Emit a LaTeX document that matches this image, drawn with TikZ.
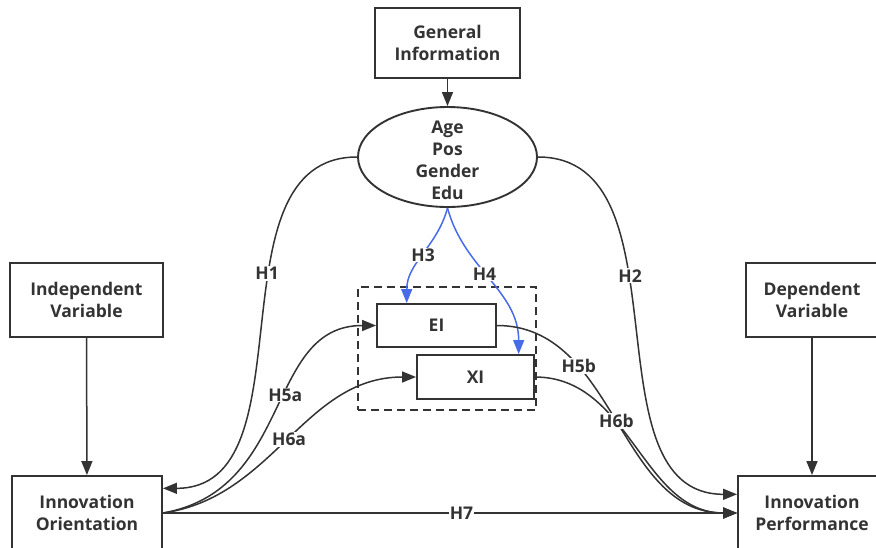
\documentclass[tikz,border=0pt]{standalone}
\usepackage{fontspec}
\setmainfont{Open Sans}
\usetikzlibrary{shapes.geometric,arrows.meta}
\definecolor{linegray}{RGB}{51,51,51}
\definecolor{hypblue}{RGB}{72,108,232}

\begin{document}
\begin{tikzpicture}[x=1pt,y=1pt,font=\bfseries\fontsize{17.5}{22}\selectfont]

		\tikzstyle{varbox}=[rectangle,
			draw=linegray,line width=1.9pt,text=linegray,
			minimum height=74pt,inner sep=0pt,align=center]
		\tikzstyle{hyp}=[fill=white,inner sep=1pt,text=linegray]
		\tikzstyle{link}=[->,>={Triangle[length=14pt,width=11pt]},line width=1.5pt,color=linegray]

		\useasboundingbox (0,0) rectangle (876,-547);

		\node[varbox,minimum width=145pt,minimum height=70pt]	(info)	at (447.5,-43)	{General\\Information};
		\node[ellipse,draw=linegray,line width=1.9pt,minimum width=179pt,minimum height=100pt,inner sep=0pt,
			label={[align=center,text=linegray,yshift=-3pt]center:Age\\Pos\\Gender\\Edu}]	(demo)	at (447.5,-157)	{};
		\node[varbox,minimum width=153pt]	(indep)	at (86.5,-300)	{Independent\\Variable};
		\node[varbox,minimum width=132pt]	(dep)	at (812,-300)	{Dependent\\Variable};
		\node[varbox,minimum width=150pt]	(orient)	at (87,-513)	{Innovation\\Orientation};
		\node[varbox,minimum width=148pt]	(perf)	at (812,-513)	{Innovation\\Performance};

		\node[draw=linegray,line width=1.5pt,dash pattern=on 8pt off 5pt,minimum width=178pt,minimum height=123pt]	(frame)	at (447,-348.5)	{};
		\node[varbox,minimum width=119pt,minimum height=43pt]	(ei)	at (436.5,-325.5)	{EI};
		\node[varbox,minimum width=117pt,minimum height=44pt]	(xi)	at (475.5,-377)	{XI};

		\draw[link] (info) -- (demo);
		\draw[link] (indep) -- (orient);
		\draw[link] (dep) -- (perf);

		\draw[link,out=180,in=0] (demo.west) to node[hyp,pos=0.4]{H1} (orient.18);
		\draw[link,out=0,in=180] (demo.east) to node[hyp,pos=0.4]{H2} (perf.166);

		\draw[link,color=hypblue,out=-105,in=90] (demo.south) to node[hyp,pos=0.5]{H3} (ei.143);
		\draw[link,color=hypblue,out=-75,in=90] (demo.south) to node[hyp,pos=0.45]{H4} (xi.28);

		\draw[link,out=10,in=180,out looseness=1.2] (orient.east) to node[hyp,pos=0.56]{H5a} (ei.west);
		\draw[link,out=8,in=180] (orient.east) to node[hyp,pos=0.5]{H6a} (xi.west);

		\draw[link,out=0,in=180] (ei.east) to node[hyp,pos=0.3]{H5b} (perf.west);
		\draw[link,out=0,in=180] (xi.east) to node[hyp,pos=0.38]{H6b} (perf.west);

		\draw[link] (orient.east) -- node[hyp,pos=0.52]{H7} (perf.west);

	\end{tikzpicture}
\end{document}
